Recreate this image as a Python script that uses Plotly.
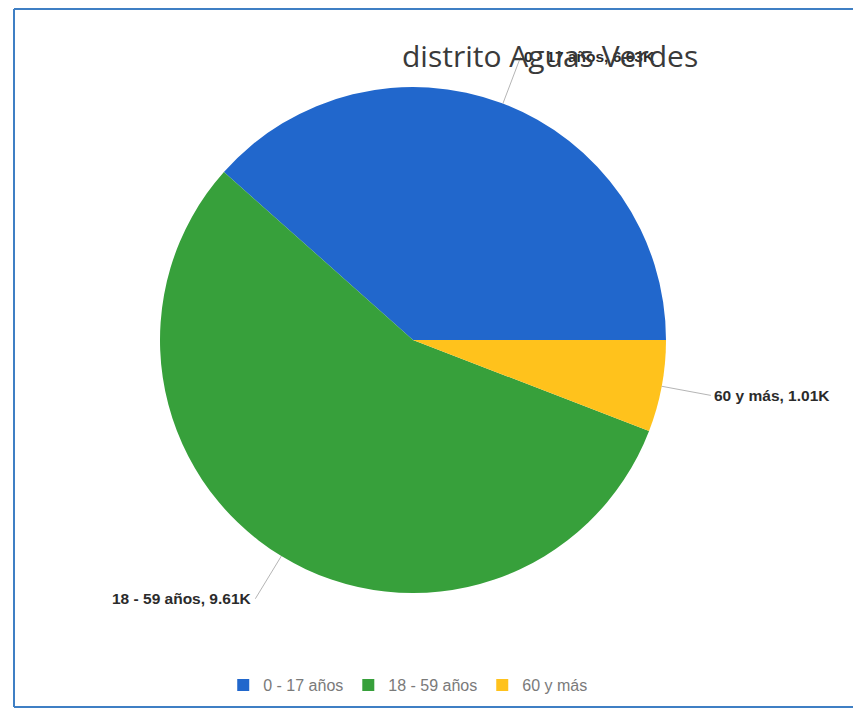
import math
import plotly.graph_objects as go

# Población del distrito por grupo de edad
grupos = ["0 - 17 años", "18 - 59 años", "60 y más"]
poblacion = [6630, 9610, 1010]
colores = ["#2167cc", "#37a03b", "#ffc21c"]

etiquetas = [f"{g}, {v / 1000:.2f}K" for g, v in zip(grupos, poblacion)]

W, H = 853, 710
cx, cy, r = 413, 340, 253
guia = 50  # largo de la línea guía de cada etiqueta

# el primer sector arranca a las 3 en punto y avanza en sentido antihorario
total = sum(poblacion)
giro = 90 - 360 * poblacion[0] / total

fig = go.Figure(
    go.Pie(
        labels=grupos,
        values=poblacion,
        textinfo="none",
        marker=dict(colors=colores, line=dict(width=0)),
        sort=False,
        direction="counterclockwise",
        rotation=giro,
        hoverinfo="label+value",
        domain=dict(
            x=[(cx - r) / W, (cx + r) / W],
            y=[1 - (cy + r) / H, 1 - (cy - r) / H],
        ),
        automargin=False,
    )
)

# etiquetas externas con línea guía, en el ángulo medio de cada sector
notas = []
acum = 0
for texto, v in zip(etiquetas, poblacion):
    medio = 2 * math.pi * (acum + v / 2) / total
    acum += v
    px = cx + r * math.cos(medio)
    py = cy - r * math.sin(medio)
    dx = guia * math.cos(medio)
    dy = -guia * math.sin(medio)
    notas.append(
        dict(
            text=texto,
            x=px / W,
            y=1 - py / H,
            xref="paper",
            yref="paper",
            ax=dx,
            ay=dy,
            axref="pixel",
            ayref="pixel",
            xanchor="left" if dx >= 0 else "right",
            yanchor="middle",
            showarrow=True,
            arrowhead=0,
            arrowwidth=1,
            arrowcolor="#b5b5b5",
            standoff=0,
            startstandoff=0,
            borderpad=2,
            font=dict(family="Liberation Sans, Arial, sans-serif", size=15.5,
                      color="#2b2b2b", weight="bold"),
        )
    )

notas.append(
    dict(
        text="distrito Aguas Verdes",
        x=550 / W,
        y=1 - 55 / H,
        xref="paper",
        yref="paper",
        xanchor="center",
        yanchor="middle",
        showarrow=False,
        font=dict(family="Open Sans, sans-serif", size=30, color="#3a3a3a"),
    )
)

fig.update_layout(
    width=W,
    height=H,
    margin=dict(l=0, r=0, t=0, b=0),
    paper_bgcolor="white",
    plot_bgcolor="white",
    showlegend=True,
    legend=dict(
        orientation="h",
        x=0.478,
        xanchor="center",
        y=1 - 685 / H,
        yanchor="middle",
        font=dict(family="Liberation Sans, Arial, sans-serif", size=16, color="#7a7a7a"),
        itemsizing="constant",
    ),
    annotations=notas,
    shapes=[
        # marco del informe
        dict(type="line", xref="paper", yref="paper", x0=14 / W, x1=1, y0=1 - 9 / H, y1=1 - 9 / H,
             line=dict(color="#3f7fc4", width=2)),
        dict(type="line", xref="paper", yref="paper", x0=14 / W, x1=14 / W, y0=1 - 9 / H, y1=1 - 707 / H,
             line=dict(color="#3f7fc4", width=2)),
        dict(type="line", xref="paper", yref="paper", x0=14 / W, x1=1, y0=1 - 707 / H, y1=1 - 707 / H,
             line=dict(color="#3f7fc4", width=2)),
    ],
)

fig.write_html("out.html")
